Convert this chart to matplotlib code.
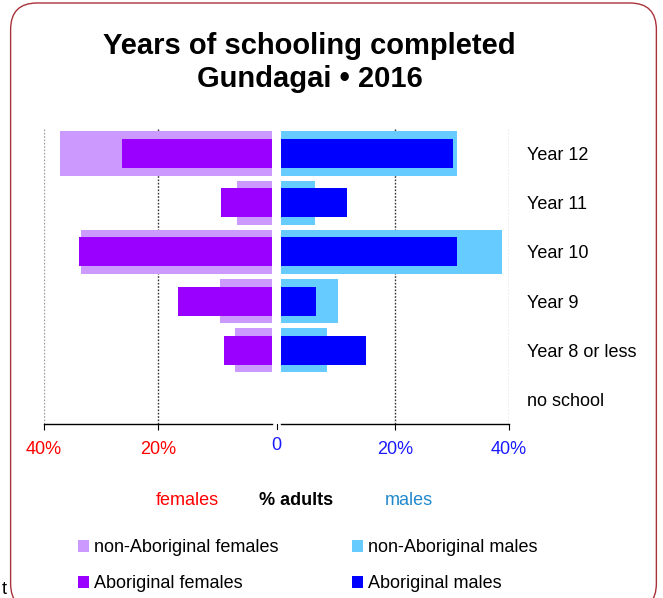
import matplotlib.pyplot as plt
import numpy as np
from matplotlib.patches import FancyBboxPatch, Patch
from matplotlib.lines import Line2D

plt.rcParams['font.family'] = ['Liberation Sans', 'DejaVu Sans']

# % of adults by highest year of school completed
levels = ["Year 12", "Year 11", "Year 10", "Year 9", "Year 8 or less", "no school"]
nonab_females = [37.2, 6.1, 33.5, 9.1, 6.5, 0.0]
ab_females = [26.3, 9.0, 33.9, 16.5, 8.5, 0.0]
nonab_males = [30.8, 5.9, 38.7, 10.0, 8.1, 0.0]
ab_males = [30.2, 11.6, 30.9, 6.1, 15.0, 0.0]

ticks = [20, 40]
title = "Years of schooling completed\nGundagai \u2022 2016"

c_nonab_f = '#CC99FF'
c_ab_f = '#9900FF'
c_nonab_m = '#66CCFF'
c_ab_m = '#0000FF'
fs = 13

fig = plt.figure(figsize=(6.63, 5.98), dpi=100)

# rounded frame around the whole chart
frame = FancyBboxPatch((0.016, -0.02), 0.974, 1.015, boxstyle="round,pad=0,rounding_size=0.04",
                       transform=fig.transFigure, fill=False, edgecolor='#A8323A', linewidth=1.0,
                       mutation_aspect=663 / 598)
fig.patches.append(frame)

fig.text(0.467, 0.896, title, ha='center', va='center', fontsize=21, fontweight='bold',
         linespacing=1.22)

axL = fig.add_axes([0.0664, 0.2910, 0.3439, 0.4933])
axR = fig.add_axes([0.4238, 0.2910, 0.3439, 0.4933])

y = np.arange(len(levels))

axL.barh(y, nonab_females, height=0.9, color=c_nonab_f, linewidth=0, zorder=2)
axL.barh(y, ab_females, height=0.59, color=c_ab_f, linewidth=0, zorder=3)
axR.barh(y, nonab_males, height=0.9, color=c_nonab_m, linewidth=0, zorder=2)
axR.barh(y, ab_males, height=0.59, color=c_ab_m, linewidth=0, zorder=3)

axL.set_xlim(40, 0)
axR.set_xlim(0, 40)
for ax in (axL, axR):
    ax.set_ylim(len(levels) - 0.5, -0.5)
    for s in ('top', 'left', 'right'):
        ax.spines[s].set_visible(False)
    ax.spines['bottom'].set_linewidth(1.0)
    ax.set_xticks(ticks)
    ax.tick_params(axis='x', direction='out', length=4, width=0.8, pad=8, labelsize=fs)
    for t in ticks:
        col = '#A0A0A0' if t == 40 else '#333333'
        ax.axvline(t, color=col, linestyle=(0, (1.2, 1.2)), linewidth=1.0, zorder=1)

axL.set_xticklabels([f"{t}%" for t in ticks], color='#FF0000')
axR.set_xticklabels([f"{t}%" for t in ticks], color='#1A1AFF')

axL.set_yticks([])
axR.yaxis.tick_right()
axR.set_yticks(y)
axR.set_yticklabels(levels, fontsize=fs)
axR.tick_params(axis='y', length=0, pad=13)

# shared zero tick between the two panels
pl = axL.get_position()
pr = axR.get_position()
xmid = (pl.x1 + pr.x0) / 2
fig.add_artist(Line2D([xmid, xmid], [pl.y0, pl.y0 - 0.009], transform=fig.transFigure,
                      color='black', linewidth=0.8))
fig.text(xmid, pl.y0 - 0.021, "0", ha='center', va='top', fontsize=fs, color='#1A1AFF')

fig.text(0.282, 0.163, "females", ha='center', va='center', fontsize=fs, color='#FF0000')
fig.text(0.447, 0.163, "% adults", ha='center', va='center', fontsize=fs, fontweight='bold')
fig.text(0.617, 0.163, "males", ha='center', va='center', fontsize=fs, color='#2288CC')

handles = [Patch(facecolor=c_nonab_f, label="non-Aboriginal females"),
           Patch(facecolor=c_ab_f, label="Aboriginal females"),
           Patch(facecolor=c_nonab_m, label="non-Aboriginal males"),
           Patch(facecolor=c_ab_m, label="Aboriginal males")]
fig.legend(handles=handles, ncol=2, loc='upper left', bbox_to_anchor=(0.1175, 0.098),
           frameon=False, fontsize=fs, handlelength=0.62, handleheight=0.62,
           handletextpad=0.25, columnspacing=4.1, labelspacing=1.05, borderpad=0,
           borderaxespad=0)

fig.text(0.003, 0.0, "t", ha='left', va='bottom', fontsize=fs)

fig.savefig("out.png", dpi=100)
